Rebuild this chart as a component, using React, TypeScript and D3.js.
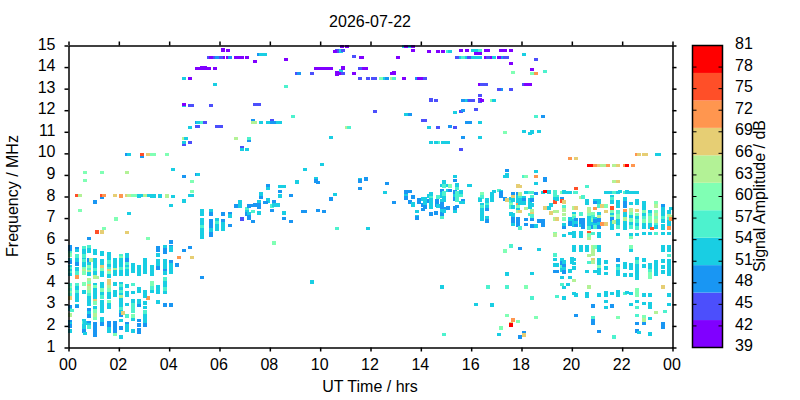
import { useEffect, useRef } from "react";
import * as d3 from "d3";

// every row: hour, then MHz, dB pairs seen at that hour
type Row = number[];

const titleDate = "2026-07-22";
const hourTicks = [0, 2, 4, 6, 8, 10, 12, 14, 16, 18, 20, 22, 24];
const freqTicks = [1, 2, 3, 4, 5, 6, 7, 8, 9, 10, 11, 12, 13, 14, 15];
const ampTicks = [39, 42, 45, 48, 51, 54, 57, 60, 63, 66, 69, 72, 75, 78, 81];
const ampLevels = 11;
const bandColors = [
    "#8000ff", "#4c4ffc", "#1996f3", "#19cee3", "#4df2ce", "#80ffb4",
    "#b3f296", "#e6ce74", "#ff964f", "#ff4f28", "#ff0000",
];

// top of the plot, morning
const highMorning: Row[] = [
    [6.15, 14.78, 41, 14.44, 41], [6.35, 14.77, 41, 14.44, 41], [5.6, 14.44, 45], [5.67, 14.44, 41],
    [5.83, 14.44, 45, 13.93, 41, 13.19, 52], [5.91, 14.44, 48], [6.07, 14.44, 45, 11.24, 45], [6.43, 14.44, 48],
    [6.67, 14.44, 41, 10.69, 64], [6.83, 14.44, 41], [6.9, 14.44, 41, 10.27, 45, 10.18, 52], [7.1, 14.44, 41, 10.18, 52],
    [7.58, 14.58, 48, 12.27, 45], [7.66, 14.58, 52, 11.43, 52, 8.1, 52], [7.82, 14.58, 52], [7.42, 14.26, 41, 12.27, 45, 11.43, 64],
    [5.09, 13.93, 41, 11.43, 48, 11.24, 45, 9.02, 48], [5.16, 13.93, 41, 11.43, 52, 11.24, 45, 9.02, 52],
    [5.32, 13.95, 41, 11.43, 56], [5.42, 13.95, 41], [5.44, 11.43, 45], [5.6, 13.93, 41],
    [4.6, 13.47, 52, 12.22, 52, 12.27, 41, 10.69, 64, 10.41, 45, 10.5, 52, 8.93, 48], [4.84, 13.47, 41, 12.22, 45, 11.2, 52, 10.5, 45],
    [4.92, 12.22, 45, 8.7, 60, 8.23, 60], [5.67, 12.22, 45], [7.34, 11.52, 48, 11.43, 64], [7.94, 11.43, 52, 8.5, 48, 8.37, 52],
    [4.68, 10.69, 52], [5.91, 11.24, 45], [7.18, 10.6, 48, 10.69, 56],
    [2.34, 9.95, 48, 9.11, 64, 8.04, 68, 6.33, 68], [2.42, 9.95, 52, 8.04, 64, 7.21, 52], [2.94, 9.88, 48, 9.95, 75], [3.17, 9.95, 68, 8.04, 52, 6.05, 60, 3.31, 71],
    [3.33, 9.95, 60, 8.02, 52], [3.41, 9.95, 60, 8.02, 52], [3.93, 9.95, 60, 8.02, 64], [4.17, 9.25, 52, 8.0, 52],
    [0.67, 9.11, 60, 8.74, 60], [1.35, 9.11, 60, 7.98, 48, 8.04, 75, 6.37, 68],
    [0.32, 8.04, 75], [0.44, 8.04, 64, 7.35, 60], [1.43, 8.04, 71, 6.51, 60], [1.83, 8.04, 68], [2.1, 8.01, 71],
    [2.58, 8.04, 60], [2.66, 8.04, 60], [2.82, 8.02, 52], [2.9, 8.04, 52], [3.05, 8.04, 64], [3.65, 8.02, 52],
    [4.84, 8.04, 52], [4.92, 8.04, 52],
    [1.07, 7.76, 48], [1.9, 6.97, 60], [1.15, 6.37, 75, 4.24, 64], [0.83, 6.05, 48],
    [4.09, 7.58, 52, 5.9, 48], [4.6, 7.78, 52, 5.49, 48], [4.84, 5.63, 48], [4.4, 5.17, 71], [4.92, 5.17, 68], [4.33, 4.84, 48], [5.32, 4.24, 48],
];

// dawn columns below 6 MHz
const lowColumns: Row[] = [
    [0.07, 5.66, 48, 5.56, 48, 5.38, 56, 5.28, 60, 5.05, 52, 4.95, 48, 4.73, 52, 4.64, 56, 4.55, 52, 4.46, 56, 4.38, 52, 3.9, 56, 3.78, 60, 3.66, 56, 3.54, 60, 3.42, 56, 3.3, 68, 2.88, 48, 2.76, 52, 2.52, 64, 2.2, 48, 2.08, 52, 2.0, 48, 1.78, 52],
    [0.15, 2.71, 56],
    [0.32, 5.58, 48, 5.5, 52, 5.25, 56, 5.05, 52, 4.87, 48, 4.65, 52, 4.55, 52, 4.45, 56, 4.27, 71, 3.9, 56, 3.75, 52, 3.6, 56, 3.42, 52, 3.28, 52, 3.2, 52, 2.95, 52, 2.9, 48],
    [0.6, 5.6, 56, 5.5, 52, 5.4, 52, 5.25, 56, 5.08, 52, 5.0, 56, 4.9, 52, 4.75, 52, 4.65, 60, 4.55, 64, 4.45, 60, 3.95, 60, 3.58, 52, 2.25, 52, 2.12, 56, 2.0, 52, 1.9, 52, 1.75, 48],
    [0.67, 2.15, 52, 1.65, 52],
    [0.83, 5.65, 56, 5.55, 52, 5.45, 52, 5.05, 48, 4.88, 52, 4.75, 60, 4.62, 56, 4.5, 64, 4.4, 52, 4.12, 64, 4.0, 60, 3.85, 68, 3.75, 64, 3.6, 60, 3.45, 56, 3.3, 52, 3.15, 52, 3.03, 52, 2.75, 48, 2.6, 52, 2.45, 48, 2.15, 48, 2.05, 52, 1.95, 56],
    [0.91, 5.07, 64],
    [1.07, 5.48, 52, 5.38, 52, 5.05, 52, 4.88, 52, 4.72, 52, 4.6, 56, 4.45, 52, 4.27, 64, 3.92, 52, 3.8, 60, 3.65, 52, 3.5, 52, 3.35, 52, 3.15, 68, 3.05, 60, 2.85, 52, 2.7, 60, 2.5, 64, 2.35, 60, 2.1, 48, 2.0, 48, 1.9, 48, 1.8, 48, 1.65, 48, 1.55, 48],
    [1.35, 5.4, 52, 5.32, 52, 5.0, 52, 4.85, 52, 4.73, 68, 4.6, 60, 4.45, 52, 4.35, 52, 3.95, 52, 3.8, 52, 3.65, 60, 3.5, 52, 3.35, 56, 3.1, 52, 3.0, 52, 2.85, 52, 2.7, 52, 2.35, 52, 2.25, 52, 2.1, 48],
    [1.59, 5.35, 52, 5.22, 52, 5.08, 52, 4.95, 56, 4.8, 52, 4.65, 56, 4.55, 68, 4.45, 60, 4.3, 52, 4.1, 68, 3.95, 68, 3.8, 64, 3.65, 60, 3.5, 52, 3.35, 52, 3.1, 60, 3.0, 52, 2.85, 52, 2.13, 48, 2.02, 48, 1.85, 52, 1.78, 52],
    [1.83, 5.05, 52, 4.9, 52, 4.75, 52, 4.6, 64, 4.5, 52, 4.4, 52, 3.95, 52, 3.6, 52, 3.45, 52, 2.15, 48, 2.05, 48, 1.95, 48, 1.85, 48, 1.7, 48, 1.6, 60],
    [2.1, 5.25, 56, 5.15, 60, 5.05, 52, 4.92, 52, 4.8, 52, 4.65, 56, 4.52, 52, 4.42, 52, 3.95, 52, 3.85, 56, 3.7, 52, 3.6, 56, 3.45, 52, 3.35, 64, 3.2, 52, 3.05, 52, 2.95, 52, 2.8, 56, 2.65, 52, 2.5, 48, 2.25, 52, 1.92, 48, 1.5, 52],
    [2.18, 2.61, 68],
    [2.34, 5.3, 52, 5.2, 52, 5.05, 48, 4.9, 56, 4.75, 52, 4.65, 56, 4.55, 52, 4.42, 52, 3.85, 52, 3.55, 52, 3.42, 52, 3.0, 52, 2.45, 56, 2.1, 48, 2.0, 52, 1.9, 52, 1.8, 52],
    [2.58, 4.85, 52, 4.75, 52, 4.65, 52, 4.55, 52, 3.92, 56, 3.55, 52, 3.15, 52, 3.0, 56, 2.85, 56, 2.7, 56, 2.45, 60, 2.3, 52, 1.75, 52],
    [2.82, 4.72, 52, 4.6, 52, 4.5, 52, 4.38, 52, 3.7, 52, 3.62, 52, 3.15, 52, 3.05, 52, 2.95, 48, 2.25, 48, 2.05, 48, 1.8, 48, 1.72, 48],
    [3.05, 5.05, 52, 4.88, 52, 4.7, 52, 4.5, 52, 3.6, 52, 3.5, 52, 3.4, 52, 3.05, 52, 2.85, 52, 2.65, 56, 2.45, 52, 2.3, 52, 2.2, 52, 2.05, 48],
    [3.33, 4.72, 52, 4.6, 52, 4.5, 52, 4.42, 52, 3.98, 60, 3.85, 60, 3.75, 56, 3.6, 52],
    [3.57, 5.6, 48, 5.5, 48, 5.3, 52, 5.0, 52, 4.9, 52, 4.8, 52, 4.7, 48, 3.8, 52, 3.7, 52, 3.55, 52, 3.12, 52],
    [3.85, 5.65, 52, 5.55, 48, 5.4, 48, 5.0, 52, 4.9, 52, 4.78, 52, 4.65, 52, 4.55, 48, 4.45, 52, 4.18, 56, 4.0, 52, 3.85, 52, 3.7, 56, 3.55, 52, 2.97, 48],
    [4.09, 5.68, 48, 5.6, 52, 5.5, 52, 4.95, 48, 4.85, 52, 4.72, 52, 4.6, 52, 4.5, 52, 2.98, 48],
];

// the 6 to 8 MHz trace after sunrise
const riseTrace: Row[] = [
    [5.32, 7.35, 52, 7.2, 52, 6.9, 52, 6.75, 52, 6.6, 56, 6.45, 52, 6.25, 52, 6.12, 52],
    [5.67, 7.35, 52, 7.2, 48, 6.85, 48, 6.75, 48, 6.6, 48, 6.45, 52, 6.25, 48, 6.2, 48],
    [5.91, 6.9, 52, 6.78, 56, 6.62, 52, 6.5, 52],
    [6.15, 7.2, 48, 6.87, 48, 6.75, 52, 6.6, 52, 6.5, 52],
    [6.43, 7.2, 48, 7.1, 52, 6.65, 48], [6.67, 7.55, 48], [6.83, 7.75, 52, 7.65, 52, 7.55, 52], [6.9, 6.97, 45],
    [7.1, 7.45, 56, 7.3, 52, 7.2, 48], [7.18, 7.55, 48, 7.2, 52, 7.05, 48, 6.98, 48],
    [7.34, 7.58, 48, 7.3, 56, 6.84, 48], [7.42, 7.62, 48],
    [7.58, 7.75, 52, 7.6, 48, 7.52, 48, 7.22, 52], [7.66, 7.95, 48], [7.82, 7.72, 48], [7.94, 7.85, 48, 7.8, 52, 7.86, 52],
    [7.83, 7.72, 48], [8.1, 7.56, 56, 7.35, 48], [8.17, 7.76, 48, 7.6, 52, 5.86, 60], [8.33, 7.59, 52],
    [8.41, 8.46, 52, 8.23, 48, 8.03, 52], [8.57, 8.46, 52, 7.24, 52, 6.98, 48], [8.85, 8.04, 48, 6.84, 48],
    [9.33, 7.3, 48], [9.4, 7.3, 48], [9.92, 8.65, 48, 7.35, 48], [10.16, 7.3, 48], [10.44, 7.9, 48], [10.6, 8.09, 52],
    [12.58, 8.18, 52], [12.94, 7.72, 48], [10.67, 6.51, 56], [11.9, 6.51, 52], [9.68, 4.05, 52], [14.84, 3.82, 52], [14.92, 1.6, 56],
    [10.08, 9.48, 52], [9.4, 9.25, 52], [9.84, 8.82, 52, 8.73, 48], [9.09, 8.66, 52],
    [11.59, 8.79, 52, 8.73, 48, 8.37, 48], [11.83, 8.82, 48], [12.66, 8.6, 48],
];

// high scatter through midday
const highMidday: Row[] = [
    [10.87, 14.95, 41], [11.07, 14.95, 41, 11.2, 64], [10.67, 14.74, 45, 13.75, 41, 13.65, 41], [10.6, 14.72, 41], [10.83, 14.74, 52, 13.84, 52, 13.7, 41], [10.92, 14.77, 45, 13.96, 41, 13.7, 45],
    [11.35, 14.49, 45, 13.7, 41], [11.63, 14.44, 41], [11.67, 14.44, 41, 13.93, 41], [13.1, 14.44, 41], [8.65, 14.35, 41, 13.1, 56],
    [13.33, 14.95, 52, 13.47, 41], [13.41, 14.95, 41, 11.8, 52], [13.57, 14.95, 52, 11.8, 48], [13.69, 14.95, 41, 14.77, 41],
    [14.33, 14.72, 41, 11.2, 52], [14.68, 14.72, 41, 11.2, 45, 10.5, 56], [14.88, 14.72, 41, 10.5, 52], [15.08, 14.72, 56, 10.5, 52], [15.16, 14.72, 52, 11.24, 48],
    [15.6, 14.77, 41, 14.44, 52, 11.94, 45, 10.18, 45], [15.83, 14.77, 41, 14.44, 52, 12.45, 52, 11.43, 48], [16.07, 14.77, 52, 14.44, 52, 12.45, 45],
    [15.44, 14.44, 45], [15.67, 14.44, 56, 12.45, 48, 11.99, 48, 10.74, 48], [15.91, 14.44, 45, 12.45, 48, 11.43, 48],
    [9.84, 13.93, 41], [9.92, 13.93, 41], [10.08, 13.93, 41], [10.16, 13.93, 41], [10.32, 13.93, 41], [10.44, 13.93, 41, 10.74, 52],
    [11.59, 13.93, 45, 13.47, 45], [11.83, 13.93, 41], [9.09, 13.7, 45, 8.66, 52], [9.17, 13.7, 48], [9.68, 13.7, 45],
    [12.86, 13.7, 41, 13.47, 64], [12.94, 13.73, 41, 13.47, 56], [11.91, 13.47, 45], [12.1, 13.47, 45], [12.18, 13.47, 45, 11.94, 45],
    [12.42, 13.47, 60], [12.58, 13.47, 52], [12.66, 13.47, 48], [13.85, 13.47, 48], [13.93, 13.47, 41], [14.09, 13.47, 41, 11.52, 45], [14.17, 13.47, 45, 11.52, 45],
    [14.4, 12.48, 45, 10.5, 52], [14.6, 12.45, 45, 10.5, 52], [15.36, 11.9, 52, 11.2, 45],
    [7.94, 11.43, 52], [8.1, 11.49, 45, 11.43, 48], [8.17, 11.43, 48], [8.33, 11.43, 52], [8.41, 11.43, 52], [8.93, 11.71, 56], [11.15, 11.2, 56],
    [14.96, 10.5, 52],
    [7.94, 8.5, 48, 8.37, 52], [7.94, 8.37, 52],
    [12.58, 8.19, 52], [13.41, 8.23, 48, 8.1, 52], [13.57, 8.23, 48],
];

// evening and late-night high scatter
const highEvening: Row[] = [
    [16.19, 14.77, 52, 14.63, 41, 14.44, 52, 12.03, 45], [16.35, 14.77, 56, 14.63, 41, 14.44, 52, 13.19, 41, 12.68, 45, 12.48, 41, 12.42, 45, 11.43, 52, 10.73, 52],
    [16.07, 14.77, 52, 14.44, 52, 12.45, 45], [16.59, 14.77, 41, 14.44, 41, 13.19, 45], [16.67, 14.77, 41, 14.44, 45],
    [17.18, 14.77, 41, 14.44, 48, 12.96, 48], [17.34, 14.77, 41, 14.44, 45, 10.97, 60], [17.58, 14.77, 41, 14.17, 41, 12.96, 45],
    [18.1, 14.58, 52, 13.19, 45, 11.01, 52], [16.83, 14.44, 41, 12.45, 60], [16.91, 14.44, 52, 12.45, 52], [17.1, 14.44, 41, 12.96, 45], [17.42, 14.44, 45],
    [18.57, 14.35, 45, 13.7, 71, 11.71, 56], [18.41, 13.89, 41, 13.7, 60, 10.99, 52], [17.66, 13.75, 60], [18.93, 13.8, 56],
    [16.43, 13.19, 45, 12.45, 41], [18.18, 13.19, 41], [18.33, 13.19, 41, 10.92, 52], [15.94, 12.45, 45, 11.43, 48], [18.85, 11.71, 48], [18.69, 11.01, 52],
    [22.58, 9.95, 71], [22.66, 9.95, 68], [22.86, 9.95, 68], [22.94, 9.95, 68], [23.37, 9.95, 52], [23.45, 9.95, 52],
    [19.92, 9.76, 71], [20.16, 9.76, 68], [20.67, 9.44, 79], [20.83, 9.44, 79], [20.91, 9.44, 71], [21.07, 9.44, 68], [21.19, 9.44, 64], [21.35, 9.44, 64], [21.43, 9.44, 71],
    [21.67, 9.44, 64, 8.69, 64], [21.83, 9.44, 68, 8.69, 68], [22.1, 9.44, 71], [22.18, 9.44, 79], [22.42, 9.44, 71],
    [17.42, 9.2, 48, 9.0, 52, 8.93, 52], [18.57, 9.16, 52, 8.93, 71, 8.6, 52], [17.34, 8.93, 52], [18.1, 8.93, 56], [18.18, 8.93, 60], [18.93, 8.82, 48, 8.74, 48],
    [15.94, 8.51, 52], [17.86, 8.5, 68], [17.94, 8.46, 68], [20.6, 8.46, 56], [20.16, 8.37, 75],
];

// sounding cluster around 14 to 16 hours
const noonCluster: Row[] = [
    [13.41, 8.2, 48, 8.05, 52, 7.93, 48], [13.57, 8.23, 48, 7.76, 48], [13.69, 7.98, 48, 7.67, 52, 7.6, 52],
    [13.85, 7.3, 52, 7.05, 52, 7.0, 48], [13.93, 7.85, 48, 7.75, 48], [14.09, 7.9, 52, 7.6, 48, 7.4, 48], [14.17, 7.9, 52, 7.7, 52, 7.5, 48],
    [14.33, 8.03, 52, 7.8, 48], [14.4, 8.1, 52, 8.07, 52, 7.95, 56, 7.85, 52, 7.7, 52, 7.52, 52, 7.2, 48], [14.6, 7.25, 48], [14.63, 7.82, 48, 7.72, 48, 7.62, 48],
    [14.68, 7.98, 56, 7.55, 52], [14.84, 8.51, 52, 8.28, 48, 8.14, 52, 8.0, 52, 7.8, 52, 7.65, 48, 7.5, 48, 7.35, 52, 7.2, 48, 7.03, 56],
    [14.92, 8.68, 52, 8.6, 52, 8.5, 56, 8.17, 56, 8.05, 56, 7.95, 52, 7.83, 52, 7.45, 48, 7.33, 52],
    [15.08, 8.51, 52, 8.28, 52, 7.48, 48], [15.16, 8.5, 60, 8.28, 48], [15.36, 8.93, 52, 8.74, 48, 8.22, 48, 8.05, 52, 7.9, 48, 7.48, 48, 7.3, 52],
    [15.44, 8.52, 52, 8.37, 56, 8.17, 56, 8.0, 56, 7.85, 56, 7.53, 48], [15.6, 8.2, 52, 8.05, 56, 7.72, 52], [15.67, 7.82, 48, 7.72, 52], [15.91, 8.51, 52],
];

// the evening columns from 16 hours to midnight
const eveningTrace: Row[] = [
    [16.43, 8.1, 60, 8.07, 60, 7.97, 56, 7.6, 52, 7.5, 56, 7.4, 52, 7.25, 52, 7.1, 52, 6.97, 52], [16.35, 7.88, 56, 7.84, 52],
    [16.63, 7.85, 52, 7.75, 52, 7.6, 56, 7.5, 52, 7.4, 48, 7.0, 52, 6.85, 48], [16.83, 8.1, 52, 8.07, 52, 7.95, 52, 7.85, 52], [16.91, 8.23, 52],
    [17.1, 8.28, 56], [17.18, 8.2, 52, 8.15, 48, 8.01, 48], [17.34, 7.9, 48], [17.42, 7.85, 68],
    [17.58, 7.9, 52, 7.75, 56, 7.6, 60, 7.5, 56, 7.2, 52], [17.66, 8.14, 48, 7.98, 68, 7.85, 52, 7.52, 52, 7.13, 52, 6.98, 48, 6.85, 48, 6.7, 52],
    [17.86, 8.1, 48, 8.0, 52, 7.88, 52, 7.75, 52, 7.62, 71, 7.5, 60, 7.4, 52, 7.3, 64, 6.97, 48, 6.8, 48, 6.65, 48],
    [17.94, 8.1, 64, 8.05, 64, 7.95, 56, 7.85, 52, 7.7, 52, 7.3, 68, 6.55, 56], [18.1, 7.95, 52, 7.85, 48, 7.7, 52], [18.18, 8.19, 52, 7.45, 64, 6.93, 48, 6.7, 48],
    [18.33, 8.19, 56, 7.85, 52, 7.72, 52, 7.6, 52, 7.5, 52, 7.17, 56], [18.41, 8.19, 56, 8.0, 56, 7.85, 48, 7.6, 52, 7.35, 64, 7.2, 68, 7.1, 56, 6.93, 48, 6.62, 48],
    [18.57, 8.14, 48, 6.63, 52], [18.69, 6.87, 48, 5.54, 52], [18.85, 8.19, 52, 6.85, 48, 6.67, 48], [18.93, 8.23, 79, 7.47, 68],
    [19.09, 8.2, 52, 7.48, 52], [19.17, 7.59, 52, 7.25, 68], [19.32, 8.2, 56, 8.1, 56, 8.0, 56, 7.9, 52, 7.75, 75, 7.3, 64, 6.97, 64, 6.28, 60, 6.2, 64, 5.3, 56, 5.08, 52, 4.82, 52, 4.52, 48],
    [19.4, 8.0, 56, 7.87, 52, 7.3, 64, 6.97, 68, 4.82, 52, 4.52, 48, 3.36, 56], [19.6, 8.19, 60, 7.9, 48, 7.8, 75, 5.07, 52, 4.93, 48, 4.75, 56, 4.6, 52, 4.24, 52, 3.92, 56],
    [19.68, 8.2, 52, 7.76, 68, 7.52, 56, 7.36, 64, 7.17, 64, 6.97, 60, 6.67, 52, 6.56, 48, 6.19, 52, 4.97, 52, 4.8, 48, 4.65, 52, 4.5, 48, 3.78, 52, 3.31, 52],
    [19.84, 8.19, 52, 3.92, 52], [19.92, 8.19, 52, 6.97, 52, 6.8, 48, 6.7, 48, 6.28, 52, 4.55, 52, 4.24, 52], [20.0, 5.1, 52, 4.95, 52],
    [20.08, 7.48, 64, 7.2, 52, 7.1, 60, 7.0, 56, 6.87, 52, 6.75, 52, 6.65, 52, 6.33, 52, 6.18, 52, 5.65, 52, 5.5, 52, 5.08, 52, 4.9, 52, 4.7, 52, 4.1, 64, 3.5, 52],
    [20.12, 8.19, 56], [20.16, 8.19, 56, 7.48, 68, 6.93, 48, 6.8, 52, 6.65, 48, 3.45, 52, 2.48, 48],
    [20.35, 7.95, 64, 7.2, 56, 6.9, 48, 6.75, 48, 6.65, 52, 6.33, 52, 6.18, 52, 5.66, 52, 5.5, 52], [20.43, 7.98, 56, 6.9, 48, 6.75, 48, 6.6, 48],
    [20.6, 7.82, 52, 7.7, 52, 5.66, 52, 5.5, 52, 4.52, 52, 3.5, 52, 3.4, 52],
    [20.67, 7.45, 64, 7.3, 64, 7.15, 60, 7.0, 52, 6.85, 52, 6.7, 52, 6.55, 56, 6.33, 75, 6.2, 60, 6.05, 64, 5.27, 64, 4.94, 56, 3.82, 64],
    [20.83, 7.2, 60, 7.05, 56, 6.9, 60, 6.75, 52, 6.6, 48, 6.28, 56, 5.66, 64, 5.5, 64, 5.35, 64, 5.05, 68, 4.95, 64, 2.94, 48, 2.39, 56, 2.23, 48, 2.14, 48],
    [20.91, 7.82, 52, 7.72, 48, 7.45, 71, 6.98, 52, 6.85, 48, 6.7, 52, 6.58, 56, 5.66, 60, 4.52, 52],
    [21.07, 7.82, 52, 7.7, 52, 7.55, 56, 7.2, 52, 7.05, 64, 6.9, 48, 6.75, 52, 6.6, 48, 6.28, 52, 6.15, 52, 5.66, 52, 5.5, 52, 5.05, 52, 4.9, 52, 4.72, 60, 4.6, 52, 4.45, 52, 3.45, 52, 1.74, 48],
    [21.19, 7.56, 68, 6.74, 71], [21.35, 8.19, 52, 7.56, 60, 7.3, 68, 6.74, 68, 4.97, 52, 4.7, 52, 4.43, 52, 3.55, 52, 3.45, 52, 3.13, 52, 2.85, 52], [21.43, 8.19, 52],
    [21.59, 8.19, 52, 8.0, 52, 7.9, 56, 7.75, 52, 7.47, 75, 7.3, 60, 7.15, 52, 7.05, 60, 6.95, 48, 6.8, 52, 6.65, 52, 6.55, 52, 3.5, 52, 2.94, 48], [21.67, 8.19, 56, 6.82, 64, 1.5, 56],
    [21.83, 8.19, 52, 7.75, 52, 7.55, 52, 7.27, 56, 7.12, 60, 7.0, 60, 6.85, 52, 6.7, 52, 6.6, 56, 6.24, 52, 5.05, 48, 4.8, 52, 4.65, 56, 4.5, 52, 4.4, 52, 3.58, 52, 3.45, 52, 2.39, 60],
    [21.91, 8.23, 52],
    [22.1, 8.19, 56, 7.9, 52, 7.7, 48, 7.55, 48, 7.35, 71, 7.2, 52, 7.1, 52, 6.95, 64, 6.8, 52, 6.65, 52, 6.55, 52, 4.9, 52, 4.72, 52, 4.35, 52, 3.5, 56], [22.18, 8.2, 52, 3.55, 52],
    [22.34, 8.19, 52, 7.67, 52, 7.37, 64, 7.2, 60, 7.05, 52, 6.9, 60, 6.75, 52, 6.6, 56, 6.24, 52, 6.1, 60, 5.65, 60, 5.5, 52, 4.85, 52, 4.7, 52, 4.35, 52, 3.5, 52, 2.99, 52], [22.42, 8.19, 52],
    [22.58, 8.19, 52, 7.8, 52, 7.7, 52, 7.35, 68, 7.15, 60, 7.0, 52, 6.85, 56, 6.7, 52, 6.55, 56, 6.24, 52, 5.1, 52, 4.95, 56, 4.8, 52, 4.65, 52, 4.5, 52, 4.35, 52, 4.22, 52, 3.65, 60, 3.55, 60, 3.42, 60, 3.13, 52, 2.85, 56, 2.48, 56, 2.11, 48, 1.78, 48],
    [22.66, 1.69, 52],
    [22.86, 7.72, 52, 7.6, 52, 7.48, 52, 7.27, 60, 7.15, 52, 7.0, 56, 6.85, 60, 6.7, 52, 6.6, 52, 6.28, 52, 5.07, 52, 4.78, 52, 3.45, 52, 3.04, 52, 2.42, 60, 2.28, 64, 2.11, 48],
    [23.1, 7.27, 52, 7.15, 56, 7.0, 60, 6.85, 60, 6.7, 52, 6.6, 52, 6.28, 52, 4.85, 52, 4.7, 52, 4.55, 56, 4.4, 60, 4.25, 60, 3.45, 52, 3.04, 52, 2.88, 52, 2.34, 52, 1.62, 52],
    [23.18, 6.51, 75],
    [23.33, 7.72, 60, 7.55, 64, 7.3, 60, 7.15, 64, 7.0, 60, 6.85, 64, 6.7, 56, 6.6, 52, 6.28, 56, 4.95, 52, 4.8, 52, 4.65, 52, 4.5, 52, 4.38, 52, 2.62, 64],
    [23.61, 7.58, 48, 7.45, 52, 7.3, 52, 7.15, 52, 7.0, 56, 6.85, 52, 6.65, 52, 6.55, 52, 6.28, 52, 5.65, 52, 5.5, 52, 5.0, 52, 4.72, 52, 4.5, 52, 3.82, 68, 2.11, 48, 1.95, 48],
    [23.69, 2.67, 56],
    [23.85, 7.27, 52, 7.1, 64, 6.97, 56, 6.83, 52, 6.74, 52, 6.54, 71, 6.28, 52, 5.66, 52, 5.5, 52, 5.26, 56, 5.0, 52, 4.85, 52, 4.7, 52, 4.55, 52, 4.38, 52, 3.45, 52, 2.99, 52],
    [23.95, 7.45, 52, 7.05, 64, 6.95, 71],
];

// odd low echoes, evening
const lowEvening: Row[] = [
    [17.58, 5.71, 56, 2.11, 68, 2.03, 79], [17.34, 5.48, 60], [17.94, 5.59, 48, 1.5, 48], [17.42, 4.42, 52, 3.82, 56, 2.48, 60], [18.41, 4.43, 52, 3.31, 56],
    [16.67, 3.82, 56], [18.18, 3.82, 60], [16.19, 2.99, 52], [16.83, 2.96, 52], [18.57, 2.39, 60], [17.66, 2.29, 71], [17.86, 2.2, 60], [17.18, 1.92, 60], [17.1, 1.6, 52], [18.1, 1.69, 48, 1.58, 68],
];

const allRows = [highMorning, lowColumns, riseTrace, highMidday, highEvening, noonCluster, eveningTrace, lowEvening].flat();

const width = 800;
const height = 400;
const plot = { left: 68.5, right: 672.5, top: 45.5, bottom: 347.5 };
const bar = { left: 692.5, right: 722.5, top: 45.5, bottom: 347.5 };
const markW = 4;
const markH = 3.7;
const font = "'Liberation Sans', Arial, sans-serif";

export default function App() {
    const svgRef = useRef<SVGSVGElement>(null);

    useEffect(() => {
        if (!svgRef.current) return;
        const svg = d3.select(svgRef.current);
        svg.selectAll("*").remove();

        const x = d3.scaleLinear().domain([0, 24]).range([plot.left, plot.right]);
        const y = d3.scaleLinear().domain([1, 15]).range([plot.bottom, plot.top]);
        const amp = d3.scaleLinear().domain([39, 81]).range([bar.bottom, bar.top]);
        const step = (81 - 39) / ampLevels;
        const edges = d3.range(1, ampLevels).map((i) => 39 + i * step);
        const color = d3.scaleThreshold<number, string>().domain(edges).range(bandColors);

        const points = allRows.flatMap((row) => {
            const out: { hour: number; freq: number; db: number }[] = [];
            for (let i = 1; i < row.length; i += 2) {
                out.push({ hour: row[0], freq: row[i], db: row[i + 1] });
            }
            return out;
        });

        svg.append("g")
            .selectAll("rect")
            .data(points)
            .enter()
            .append("rect")
            .attr("x", (d) => x(d.hour) - markW / 2)
            .attr("y", (d) => y(d.freq) - markH / 2)
            .attr("width", markW)
            .attr("height", markH)
            .attr("shape-rendering", "crispEdges")
            .attr("fill", (d) => color(d.db));

        const hourLabel = (d: d3.NumberValue) => String(+d % 24).padStart(2, "0");
        const styleAxis = (g: d3.Selection<SVGGElement, unknown, null, undefined>) => {
            g.selectAll("path").attr("stroke", "#000").attr("stroke-width", 1.5);
            g.selectAll("line").attr("stroke", "#000").attr("stroke-width", 1.5);
            g.selectAll("text").attr("font-family", font).attr("font-size", 16).attr("fill", "#000");
        };

        svg.append("g")
            .attr("transform", `translate(0,${plot.bottom})`)
            .call(d3.axisBottom(x).tickValues(hourTicks).tickFormat(hourLabel).tickSize(4).tickSizeOuter(0).tickPadding(7))
            .call(styleAxis)
            .selectAll("text")
            .attr("dx", -1);
        svg.append("g")
            .attr("transform", `translate(0,${plot.top})`)
            .call(d3.axisTop(x).tickValues(hourTicks).tickFormat(() => "").tickSize(4).tickSizeOuter(0))
            .call(styleAxis);
        svg.append("g")
            .attr("transform", `translate(${plot.left},0)`)
            .call(d3.axisLeft(y).tickValues(freqTicks).tickFormat(d3.format("d")).tickSize(4).tickSizeOuter(0).tickPadding(9))
            .call(styleAxis)
            .selectAll("text")
            .attr("dy", "0.22em");
        svg.append("g")
            .attr("transform", `translate(${plot.right},0)`)
            .call(d3.axisRight(y).tickValues(freqTicks).tickFormat(() => "").tickSize(4).tickSizeOuter(0))
            .call(styleAxis);

        // colour bar
        const barG = svg.append("g");
        barG.selectAll("rect")
            .data(bandColors)
            .enter()
            .append("rect")
            .attr("x", bar.left)
            .attr("width", bar.right - bar.left)
            .attr("y", (_, i) => amp(39 + (i + 1) * step))
            .attr("height", (_, i) => amp(39 + i * step) - amp(39 + (i + 1) * step))
            .attr("fill", (d) => d);
        const inner = ampTicks.slice(1, -1);
        barG.selectAll("line.l")
            .data(inner)
            .enter()
            .append("line")
            .attr("x1", bar.left)
            .attr("x2", bar.left + 4)
            .attr("y1", (d) => amp(d))
            .attr("y2", (d) => amp(d))
            .attr("stroke", "#000");
        barG.selectAll("line.r")
            .data(inner)
            .enter()
            .append("line")
            .attr("x1", bar.right - 4)
            .attr("x2", bar.right)
            .attr("y1", (d) => amp(d))
            .attr("y2", (d) => amp(d))
            .attr("stroke", "#000");
        barG.append("rect")
            .attr("x", bar.left)
            .attr("y", bar.top)
            .attr("width", bar.right - bar.left)
            .attr("height", bar.bottom - bar.top)
            .attr("fill", "none")
            .attr("stroke", "#000")
            .attr("stroke-width", 1.5);
        barG.selectAll("text")
            .data(ampTicks)
            .enter()
            .append("text")
            .attr("x", 735)
            .attr("y", (d) => amp(d) - 2)
            .attr("dy", "0.35em")
            .attr("font-family", font)
            .attr("font-size", 16)
            .text((d) => d);

        const label = (text: string, tx: number, ty: number, rot = 0) =>
            svg.append("text")
                .attr("transform", `translate(${tx},${ty}) rotate(${rot})`)
                .attr("text-anchor", "middle")
                .attr("font-family", font)
                .attr("font-size", 16)
                .text(text);

        label(titleDate, 370, 27);
        label("UT Time / hrs", 370, 392);
        label("Frequency / MHz", 18, 196, -90);
        label("Signal Amplitude / dB", 765, 196, -90);
    }, []);

    return (
        <svg
            ref={svgRef}
            width={width}
            height={height}
            style={{ position: "absolute", left: 0, top: 0, background: "#fff" }}
        />
    );
}
